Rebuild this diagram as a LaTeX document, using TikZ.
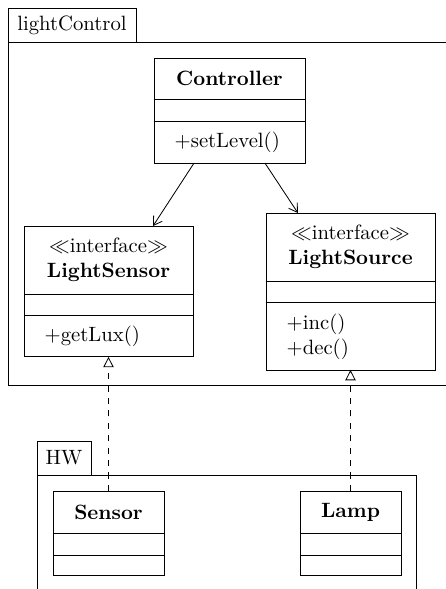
\documentclass[tikz,border=0pt]{standalone}
\usetikzlibrary{arrows.meta,positioning}

\tikzset{
  pkgtab/.style={draw, anchor=north west, minimum width=#1, minimum height=16.4pt},
  cname/.style={draw, anchor=north, align=center, minimum height=#1},
  cattr/.style={draw, minimum height=10.6pt, minimum width=#1},
  cops/.style={draw, align=left, inner xsep=10pt, minimum height=#1},
  assoc/.style={-{Straight Barb[length=4pt,width=5pt]}},
  realize/.style={dashed, -{Triangle[open,length=5pt,width=5pt]}}
}

\begin{document}
\begin{tikzpicture}[x=0.483pt, y=-0.483pt, every node/.style={inner sep=0pt, outer sep=0pt}]
    \clip (0,0) rectangle (446,589);
    % --- package lightControl ---
    \node[pkgtab=61.8pt] (lc) at (8,8) {lightControl};
    \draw (lc.south west) rectangle (470,385);
    % --- Controller ---
    \node[cname=19.8pt, minimum width=72.9pt] (ctrl) at (229.5,58) {\textbf{Controller}};
    \node[cattr=72.9pt, below=0pt of ctrl] (ctrl-att) {};
    \node[cops=20.3pt, text width=52.9pt, below=0pt of ctrl-att] (ctrl-op) {+setLevel()};
    % --- LightSensor ---
    \node[cname=32.8pt, minimum width=81.6pt] (lsen) at (108.5,226)
      {$\ll$interface$\gg$\\\textbf{LightSensor}};
    \node[cattr=81.6pt, below=0pt of lsen] (lsen-att) {};
    \node[cops=19.8pt, text width=61.6pt, below=0pt of lsen-att] (lsen-op) {+getLux()};
    % --- LightSource ---
    \node[cname=32.8pt, minimum width=81.6pt] (lsrc) at (350.5,213)
      {$\ll$interface$\gg$\\\textbf{LightSource}};
    \node[cattr=81.6pt, below=0pt of lsrc] (lsrc-att) {};
    \node[cops=32.4pt, text width=61.6pt, below=0pt of lsrc-att] (lsrc-op) {+inc()\\+dec()};
    % --- package HW ---
    \node[pkgtab=26.1pt] (hw) at (37,441) {HW};
    \draw (hw.south west) rectangle (416,620);
    % --- Sensor, Lamp ---
    \node[cname=20.3pt, minimum width=53.6pt] (sen) at (108.5,491) {\textbf{Sensor}};
    \node[cattr=53.6pt, below=0pt of sen] (sen-att) {};
    \node[cattr=53.6pt, minimum height=10.1pt, below=0pt of sen-att] (sen-op) {};
    \node[cname=20.3pt, minimum width=48.8pt] (lamp) at (350.5,491) {\textbf{Lamp}};
    \node[cattr=48.8pt, below=0pt of lamp] (lamp-att) {};
    \node[cattr=48.8pt, minimum height=10.1pt, below=0pt of lamp-att] (lamp-op) {};
    % --- associations ---
    \draw[assoc] ([xshift=-17.1pt]ctrl-op.south) -- ([xshift=21.5pt]lsen.north);
    \draw[assoc] ([xshift=17.1pt]ctrl-op.south) -- ([xshift=-25.4pt]lsrc.north);
    % --- realizations ---
    \draw[realize] (sen.north) -- (lsen-op.south);
    \draw[realize] (lamp.north) -- (lsrc-op.south);
\end{tikzpicture}
\end{document}
